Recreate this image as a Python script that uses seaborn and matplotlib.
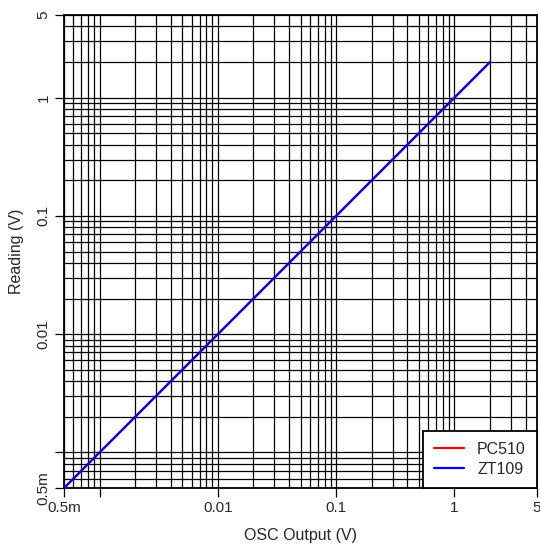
import matplotlib

matplotlib.use("Agg")
import matplotlib.pyplot as plt
import matplotlib.ticker as mticker
import pandas as pd
import seaborn as sns

osc_output = [0.0005, 0.001, 0.01, 0.1, 1, 2]
pc510 = [0.0005, 0.001, 0.01, 0.1, 1, 2]
zt109 = [0.0005, 0.001, 0.01, 0.1, 1, 2]

tick_values = [0.0005, 0.001, 0.01, 0.1, 1, 5]
tick_labels = ["0.5m", "", "0.01", "0.1", "1", "5"]

df = pd.DataFrame({
    "osc": osc_output * 2,
    "reading": pc510 + zt109,
    "meter": ["PC510"] * len(pc510) + ["ZT109"] * len(zt109),
})

sns.set_style("white")
plt.rcParams["font.family"] = ["Liberation Sans", "DejaVu Sans"]

fig = plt.figure(figsize=(5.4, 5.44), dpi=100)
ax = fig.add_axes([0.1185, 0.1029, 0.876, 0.8695])

ax.set_xscale("log")
ax.set_yscale("log")
ax.set_xlim(0.0005, 5)
ax.set_ylim(0.0005, 5)

# grid at every 1..9 step of each decade
grid_vals = [m * 10.0 ** e for e in range(-4, 1) for m in range(1, 10)]
grid_vals = [g for g in grid_vals if 0.0005 <= g <= 5]
for g in grid_vals:
    ax.axvline(g, color="black", lw=0.9, zorder=1)
    ax.axhline(g, color="black", lw=0.9, zorder=1)

sns.lineplot(data=df, x="osc", y="reading", hue="meter",
             palette={"PC510": "red", "ZT109": "blue"}, lw=1.6, ax=ax, zorder=3)

ax.xaxis.set_major_locator(mticker.FixedLocator(tick_values))
ax.xaxis.set_major_formatter(mticker.FixedFormatter(tick_labels))
ax.yaxis.set_major_locator(mticker.FixedLocator(tick_values))
ax.yaxis.set_major_formatter(mticker.FixedFormatter(tick_labels))
ax.xaxis.set_minor_locator(mticker.NullLocator())
ax.yaxis.set_minor_locator(mticker.NullLocator())
ax.tick_params(axis="both", which="major", direction="out", length=6.5, width=0.9,
               color="black", labelsize=11, bottom=True, left=True, pad=3)
for lab in ax.get_yticklabels():
    lab.set_rotation(90)
    lab.set_va("center")

for s in ax.spines.values():
    s.set_color("black")
    s.set_linewidth(1.3)

ax.set_xlabel("OSC Output (V)", fontsize=11.5, labelpad=9)
ax.set_ylabel("Reading (V)", fontsize=11.5, labelpad=9)

leg = ax.legend(loc="lower right", frameon=True, fancybox=False, fontsize=11.5,
                edgecolor="black", framealpha=1, borderaxespad=0,
                handlelength=1.9, handletextpad=0.8, borderpad=0.7,
                labelspacing=0.3)
leg.get_frame().set_linewidth(1.3)

fig.savefig("out.png", dpi=100)
plt.close(fig)
